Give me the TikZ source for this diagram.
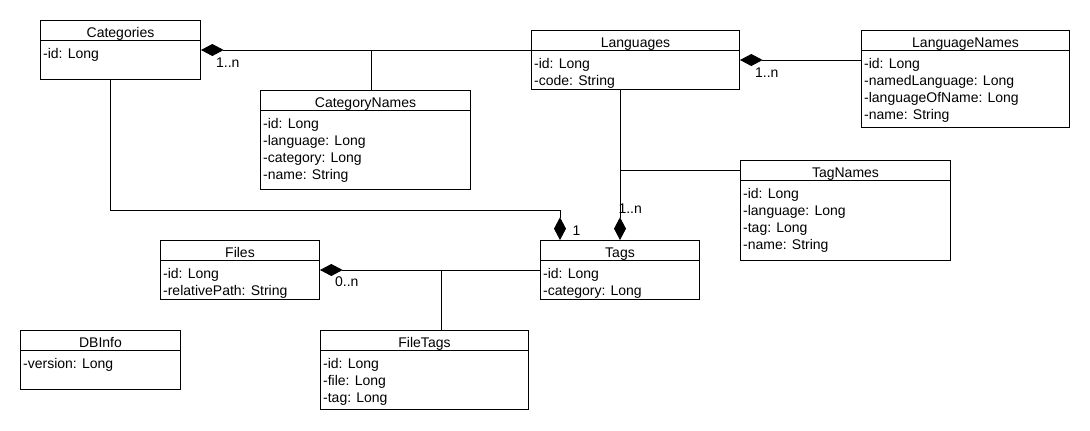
\documentclass[tikz,border=0pt]{standalone}
\usepackage{fontspec}
\setmainfont{Liberation Sans}
\usepackage{tikz}
\usetikzlibrary{arrows.meta,positioning,calc}
% one class box: name, top-left corner, width, height (px), title, attributes
\newcommand{\umlclass}[6]{%
  \node[classbox,minimum width=#3*0.75pt,minimum height=#4*0.75pt] (#1) at (#2) {};
  \node[classtitle] (#1-title) at ([yshift=-12.75pt]#1.north) {#5};
  \draw ([yshift=-15pt]#1.north west) -- ([yshift=-15pt]#1.north east);
  \node[classattr] (#1-attr) at ([xshift=2pt,yshift=-21pt]#1.north west) {#6};
}

\begin{document}
\begin{tikzpicture}[x=0.75pt,y=-0.75pt,line width=0.75pt,
  font=\fontsize{10.5}{12.75}\selectfont,
  classbox/.style={draw,fill=white,anchor=north west,inner sep=0pt},
  classtitle/.style={anchor=base,inner sep=0pt},
  classattr/.style={anchor=north west,align=left,inner sep=0pt},
  mult/.style={inner sep=0pt},
  comp/.style={{Diamond[length=17pt,width=9pt]}-}]
  \useasboundingbox (0,0) rectangle (1090,430);
  % classes
  \umlclass{cat}{40,20}{160}{59}{Categories}{-id: Long}
  \umlclass{lang}{531,30}{208}{59}{Languages}{-id: Long\\-code: String}
  \umlclass{langn}{861,30}{208}{97}{LanguageNames}{-id: Long\\-namedLanguage: Long\\-languageOfName: Long\\-name: String}
  \umlclass{catn}{260,90}{210}{99}{CategoryNames}{-id: Long\\-language: Long\\-category: Long\\-name: String}
  \umlclass{tagn}{740,160}{210}{100}{TagNames}{-id: Long\\-language: Long\\-tag: Long\\-name: String}
  \umlclass{tags}{540,240}{159}{59}{Tags}{-id: Long\\-category: Long}
  \umlclass{files}{160,240}{159}{59}{Files}{-id: Long\\-relativePath: String}
  \umlclass{dbinfo}{20,330}{160}{59}{DBInfo}{-version: Long}
  \umlclass{ftags}{320,330}{208}{79}{FileTags}{-id: Long\\-file: Long\\-tag: Long}
  % compositions
  \draw[comp] (cat.east) -- (cat.east -| lang.west);
  \coordinate (cnj) at ([xshift=4.5pt]catn.north);
  \draw (cnj) -- (cnj |- cat.east);
  \draw[comp] (lang.east) -- (lang.east -| langn.west);
  \draw[comp] (tags.north) -- (tags.north |- lang.south);
  \coordinate (tnj) at ([yshift=-7.5pt]tagn.north west);
  \draw (tnj) -- (tnj -| tags.north);
  \draw[comp] ([xshift=15pt]tags.north west) -- ++(0,-30) -| ([xshift=-7.5pt]cat.south);
  \draw[comp] (files.east) -- (tags.west);
  \coordinate (fnj) at ([xshift=12.75pt]ftags.north);
  \draw (fnj) -- (fnj |- files.east);
  % multiplicities
  \node[mult,anchor=north west] (m-cat) at ([xshift=11pt,yshift=-5.5pt]cat.east) {1..n};
  \node[mult,anchor=north west] (m-lang) at ([xshift=11pt,yshift=-5.5pt]lang.east) {1..n};
  \node[mult,anchor=base west] (m-tags) at ([xshift=-1.5pt,yshift=20.25pt]tags.north) {1..n};
  \node[mult,anchor=base west] (m-one) at ([xshift=24pt,yshift=3.75pt]tags.north west) {1};
  \node[mult,anchor=north west] (m-files) at ([xshift=11pt,yshift=-5pt]files.east) {0..n};
\end{tikzpicture}
\end{document}
